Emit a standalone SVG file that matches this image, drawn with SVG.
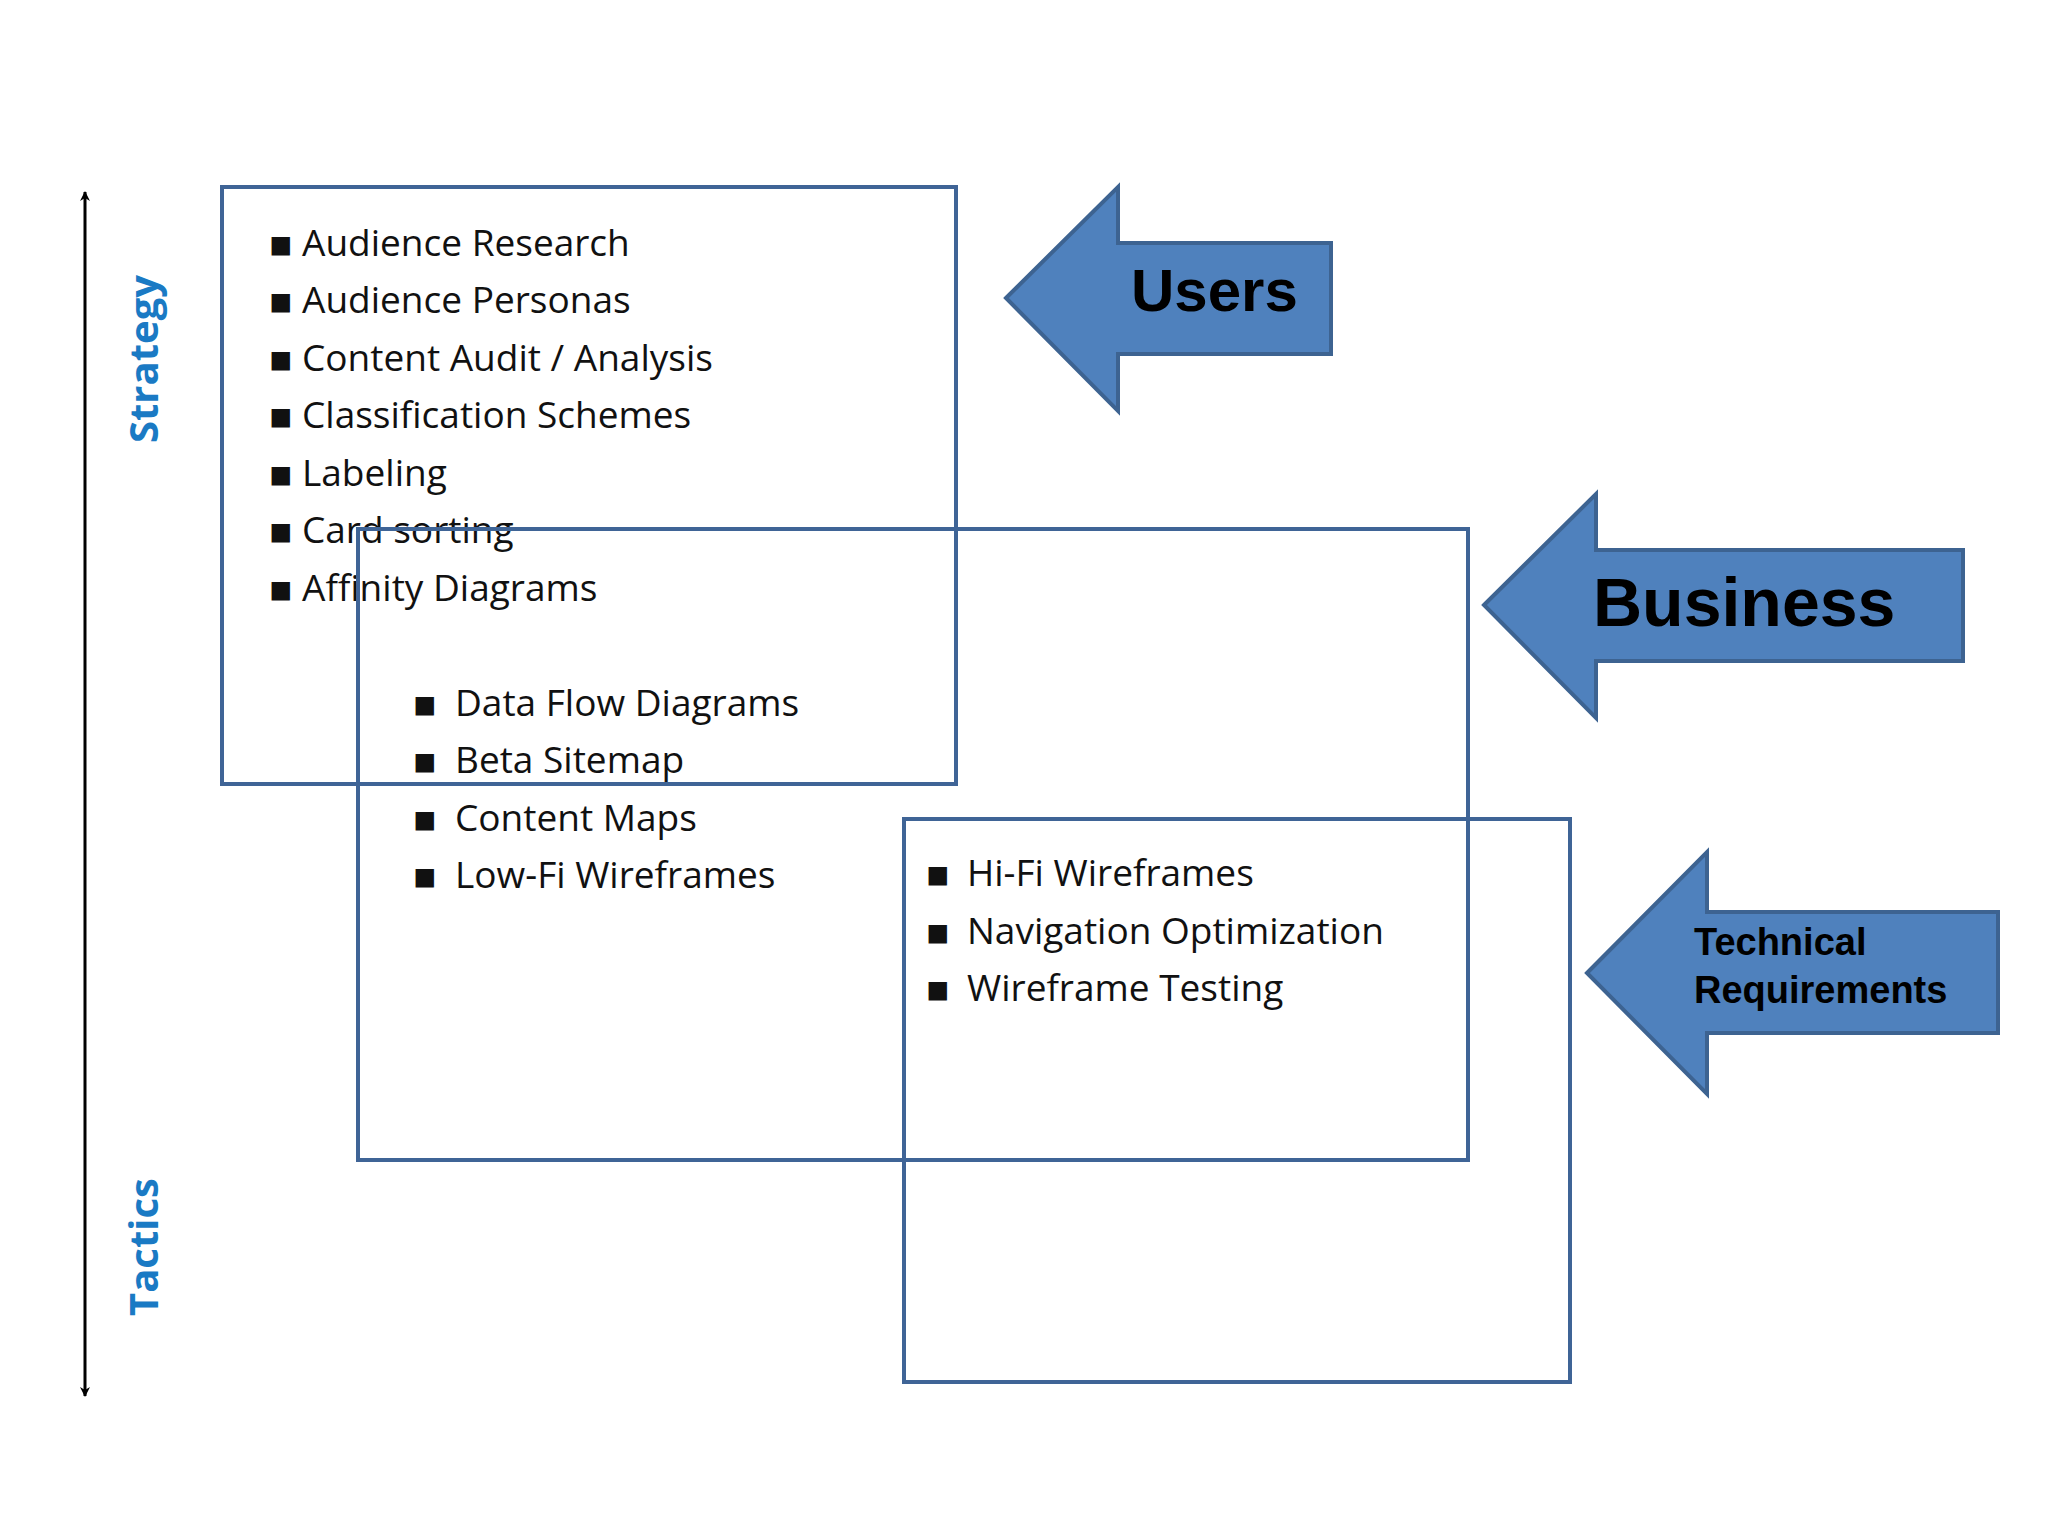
<svg xmlns="http://www.w3.org/2000/svg" width="2048" height="1536" viewBox="0 0 2048 1536">
<defs>
<style>
.box{fill:none;stroke:#3F6496;stroke-width:4}
.arr{fill:#4F81BD;stroke:#3D6391;stroke-width:4}
.li{font-family:"Open Sans","DejaVu Sans",sans-serif;font-size:37px;fill:#111}
.bt{font-family:"Liberation Sans",Arial,sans-serif;font-weight:bold;fill:#000}
.ax{font-family:"Open Sans","DejaVu Sans",sans-serif;font-weight:bold;font-size:40px;fill:#1A7AC4}
</style>
<marker id="ah" viewBox="0 0 10 10" refX="9" refY="5" markerWidth="10" markerHeight="10" orient="auto-start-reverse" markerUnits="userSpaceOnUse"><path d="M0,0 L10,5 L0,10 L3,5 Z" fill="#000"/></marker>
</defs>
<rect width="2048" height="1536" fill="#fff"/>
<g id="connectors">
<line x1="85" y1="192" x2="85" y2="1396" stroke="#000" stroke-width="3" marker-start="url(#ah)" marker-end="url(#ah)" style="marker-start:url(#ah)"/>
</g>
<g id="axis-labels">
<text class="ax" transform="translate(158,359) rotate(-90)" text-anchor="middle">Strategy</text>
<text class="ax" transform="translate(158,1247) rotate(-90)" text-anchor="middle">Tactics</text>
</g>
<g id="box-strategy">
<rect class="box" x="222" y="187" width="734" height="597"/>
<g class="li">
<text x="268" y="256">▪</text><text x="302" y="256">Audience Research</text>
<text x="268" y="313">▪</text><text x="302" y="313">Audience Personas</text>
<text x="268" y="371">▪</text><text x="302" y="371">Content Audit / Analysis</text>
<text x="268" y="428">▪</text><text x="302" y="428">Classification Schemes</text>
<text x="268" y="486">▪</text><text x="302" y="486">Labeling</text>
<text x="268" y="543">▪</text><text x="302" y="543">Card sorting</text>
<text x="268" y="601">▪</text><text x="302" y="601">Affinity Diagrams</text>
</g>
</g>
<g id="box-middle">
<rect class="box" x="358" y="529" width="1110" height="631"/>
<g class="li">
<text x="412" y="716">▪</text><text x="455" y="716">Data Flow Diagrams</text>
<text x="412" y="773">▪</text><text x="455" y="773">Beta Sitemap</text>
<text x="412" y="831">▪</text><text x="455" y="831">Content Maps</text>
<text x="412" y="888">▪</text><text x="455" y="888">Low-Fi Wireframes</text>
</g>
</g>
<g id="box-tactics">
<rect class="box" x="904" y="819" width="666" height="563"/>
<g class="li">
<text x="925" y="886">▪</text><text x="967" y="886">Hi-Fi Wireframes</text>
<text x="925" y="944">▪</text><text x="967" y="944">Navigation Optimization</text>
<text x="925" y="1001">▪</text><text x="967" y="1001">Wireframe Testing</text>
</g>
</g>
<g id="arrow-users">
<path class="arr" d="M1006,298 L1118,187 L1118,243 L1331,243 L1331,354 L1118,354 L1118,411 Z"/>
<text class="bt" x="1131" y="311" font-size="60">Users</text>
</g>
<g id="arrow-business">
<path class="arr" d="M1484,605 L1596,494 L1596,550 L1963,550 L1963,661 L1596,661 L1596,718 Z"/>
<text class="bt" x="1593" y="626" font-size="68">Business</text>
</g>
<g id="arrow-technical">
<path class="arr" d="M1587,973 L1707,852 L1707,912 L1998,912 L1998,1033 L1707,1033 L1707,1094 Z"/>
<text class="bt" x="1694" y="955" font-size="38">Technical</text>
<text class="bt" x="1694" y="1003" font-size="38">Requirements</text>
</g>
</svg>
